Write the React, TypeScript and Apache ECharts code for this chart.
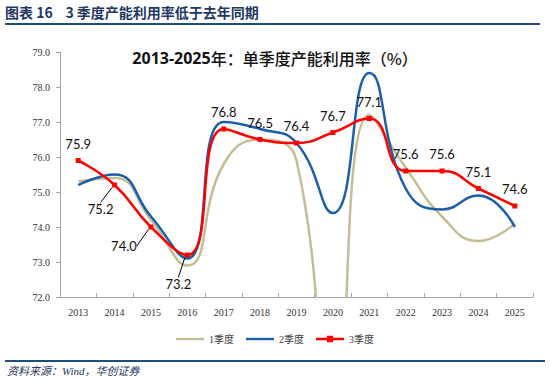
import React, { useEffect, useRef } from "react";
import * as echarts from "echarts";

const years = ["2013", "2014", "2015", "2016", "2017", "2018", "2019", "2020", "2021", "2022", "2023", "2024", "2025"];
const q1 = [75.3, 75.4, 74.2, 72.9, 75.8, 76.5, 75.9, 67.3, 77.2, 75.7, 74.3, 73.6, 74.1];
const q2 = [75.2, 75.5, 74.3, 73.1, 77.0, 76.8, 76.4, 74.4, 78.4, 75.1, 74.5, 74.9, 74.0];
const q3 = [75.9, 75.2, 74.0, 73.2, 76.8, 76.5, 76.4, 76.7, 77.1, 75.6, 75.6, 75.1, 74.6];
const yTicks = [72, 73, 74, 75, 76, 77, 78, 79];
const seriesNames = ["1季度", "2季度", "3季度"];

// label displacement (with leader lines) for a few Q3 labels
const labelMoves: Record<number, { dx: number; dy: number }> = {
  1: { dx: -14, dy: 41 },
  2: { dx: -27, dy: 36 },
  3: { dx: -9, dy: 46 },
};

const lineIcon = "path://M0,3H28V5.4H0Z";
const lineSquareIcon = "path://M0,3H11V1H17V3H28V5.4H17V7.4H11V5.4H0Z";

export default function App() {
  const ref = useRef<HTMLDivElement>(null);
  useEffect(() => {
    if (!ref.current) return;
    const chart = echarts.init(ref.current, null, { renderer: "svg" });
    const serif = "'Liberation Serif', 'Noto Sans CJK SC', serif";
    const sans = "Lato, 'Noto Sans CJK SC', sans-serif";
    chart.setOption({
      animation: false,
      backgroundColor: "#ffffff",
      title: {
        text: "{b|2013-2025}{n|年：单季度产能利用率（%）}",
        left: "center",
        top: 50,
        textStyle: {
          rich: {
            b: { fontFamily: "'Open Sans', sans-serif", fontWeight: "bold", fontSize: 16, color: "#111" },
            n: { fontFamily: "'Noto Sans CJK SC', sans-serif", fontWeight: 500, fontSize: 16, color: "#111" },
          },
        },
        padding: 0,
      },
      graphic: [
        {
          type: "text",
          left: 5,
          top: 5,
          style: {
            text: "图表 16    3 季度产能利用率低于去年同期",
            font: "bold 14px 'Noto Sans CJK SC', serif",
            fill: "#1F3864",
          },
        },
        { type: "line", shape: { x1: 5, y1: 24, x2: 540, y2: 24 }, style: { stroke: "#1F4E79", lineWidth: 2 } },
        { type: "line", shape: { x1: 5, y1: 361, x2: 545, y2: 361 }, style: { stroke: "#1F4E79", lineWidth: 2 } },
        {
          type: "text",
          left: 7,
          top: 365,
          style: {
            text: "资料来源：Wind，华创证券",
            font: "italic 11px 'Liberation Serif', 'Noto Sans CJK SC', serif",
            fill: "#1F3864",
          },
        },
      ],
      legend: {
        top: 329,
        left: "center",
        itemWidth: 28,
        itemHeight: 8,
        itemGap: 12,
        data: [
          { name: seriesNames[0], icon: lineIcon },
          { name: seriesNames[1], icon: lineIcon },
          { name: seriesNames[2], icon: lineSquareIcon },
        ],
        textStyle: { fontFamily: serif, fontSize: 10, color: "#404040" },
      },
      grid: { left: 60, right: 17, top: 52, bottom: 85 },
      xAxis: {
        type: "category",
        data: years,
        boundaryGap: true,
        axisLine: { lineStyle: { color: "#A6A6A6", width: 1 } },
        axisTick: { show: true, inside: true, length: 4, lineStyle: { color: "#A6A6A6" } },
        axisLabel: { fontFamily: serif, fontSize: 10, color: "#333", margin: 10 },
      },
      yAxis: {
        type: "value",
        min: yTicks[0],
        max: yTicks[yTicks.length - 1],
        interval: 1,
        splitLine: { show: false },
        axisLine: { show: true, lineStyle: { color: "#A6A6A6", width: 1 } },
        axisTick: { show: true, length: 4, lineStyle: { color: "#A6A6A6" } },
        axisLabel: {
          fontFamily: serif,
          fontSize: 10,
          color: "#333",
          margin: 10,
          formatter: (v: number) => v.toFixed(1),
        },
      },
      series: [
        {
          name: seriesNames[0],
          type: "line",
          data: q1,
          smooth: 0.5,
          symbol: "none",
          clip: true,
          lineStyle: { color: "#C4BD97", width: 2.5 },
          itemStyle: { color: "#C4BD97" },
          z: 2,
        },
        {
          name: seriesNames[1],
          type: "line",
          data: q2,
          smooth: 0.5,
          symbol: "none",
          clip: true,
          lineStyle: { color: "#1B5FAA", width: 2.5 },
          itemStyle: { color: "#1B5FAA" },
          z: 3,
        },
        {
          name: seriesNames[2],
          type: "line",
          data: q3.map((v, i) =>
            labelMoves[i] ? { value: v, labelLine: { show: true, lineStyle: { color: "#000", width: 1 } } } : v
          ),
          smooth: 0.5,
          symbol: "rect",
          symbolSize: 5,
          showSymbol: true,
          clip: true,
          lineStyle: { color: "#FF0000", width: 2.5 },
          itemStyle: { color: "#FF0000" },
          label: {
            show: true,
            position: "top",
            distance: 8,
            fontFamily: sans,
            fontSize: 13,
            color: "#111",
            formatter: (p: any) => Number(p.value).toFixed(1),
          },
          labelLine: { show: false },
          labelLayout: (p: any) => labelMoves[p.dataIndex] || {},
          z: 4,
        },
      ],
    });
    return () => chart.dispose();
  }, []);
  return (
    <div
      ref={ref}
      style={{ position: "fixed", left: 0, top: 0, width: 550, height: 382, background: "#fff" }}
    />
  );
}
